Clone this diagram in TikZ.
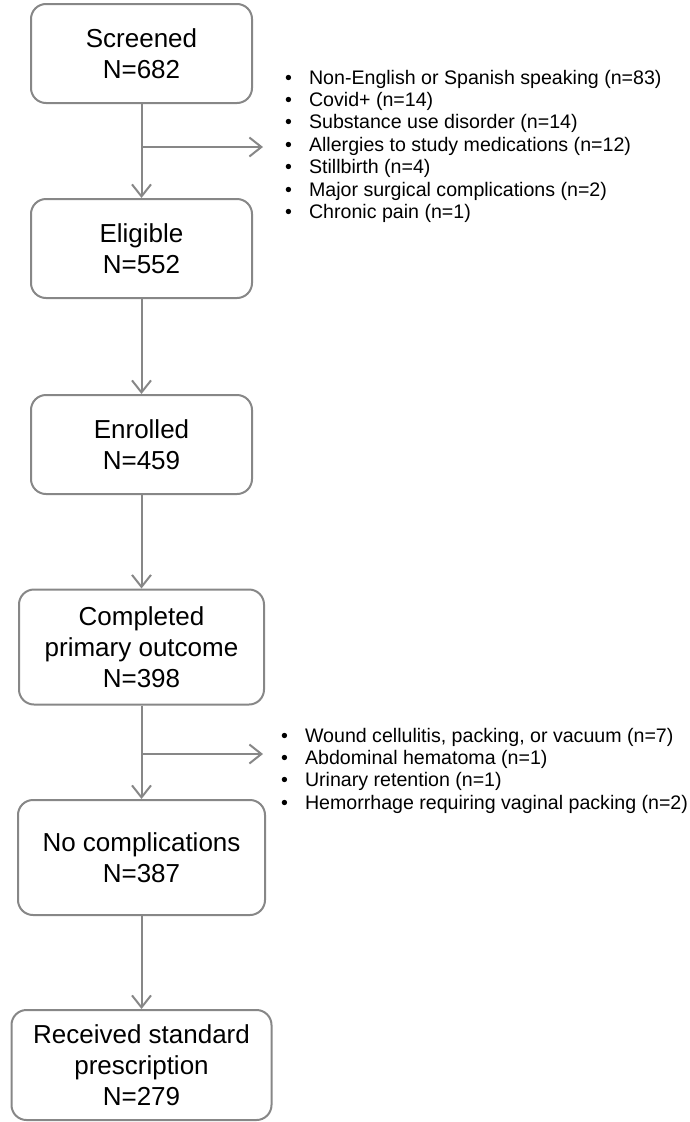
\documentclass[tikz,border=0pt]{standalone}
\usepackage{fontspec}
\setmainfont{Liberation Sans}
\usetikzlibrary{arrows.meta}
\definecolor{linegray}{RGB}{135,135,135}
\tikzset{
  flowbox/.style={draw=linegray, line width=2pt, rounded corners=15pt, align=center,
    inner sep=0pt, font=\fontsize{26}{31}\selectfont, text=black},
  arr/.style={draw=linegray, line width=2pt, -{Straight Barb[length=12pt,width=19pt,line width=2pt]}},
  listtext/.style={anchor=base west, inner sep=0pt, font=\fontsize{19.6}{22.4}\selectfont, text=black}
}
\begin{document}
\begin{tikzpicture}[x=1pt,y=-1pt]
\useasboundingbox (0,0) rectangle (690,1122);
\node[flowbox, minimum width=221pt, minimum height=99pt] (s) at (141.5,53.5) {Screened\\N=682};
\node[flowbox, minimum width=221pt, minimum height=99pt] (e) at (141.5,248.5) {Eligible\\N=552};
\node[flowbox, minimum width=221pt, minimum height=99pt] (en) at (141.5,444.5) {Enrolled\\N=459};
\node[flowbox, minimum width=245pt, minimum height=115pt] (c) at (141.5,647) {Completed\\primary outcome\\N=398};
\node[flowbox, minimum width=247pt, minimum height=115pt] (nc) at (141.5,857.5) {No complications\\N=387};
\node[flowbox, minimum width=260pt, minimum height=110pt] (r) at (141.5,1065) {Received standard\\prescription\\N=279};

\coordinate (j1) at (141.5,147);
\coordinate (t1) at (263,147);
\coordinate (j2) at (141.5,754);
\coordinate (t2) at (263,754);

\draw[arr] (s.south) -- (e.north);
\draw[arr] (j1) -- (t1);
\draw[arr] (e.south) -- (en.north);
\draw[arr] (en.south) -- (c.north);
\draw[arr] (c.south) -- (nc.north);
\draw[arr] (j2) -- (t2);
\draw[arr] (nc.south) -- (r.north);

\node[listtext] (l1) at (285,84) {\begin{tabular}[t]{@{}l@{\hspace{17pt}}l@{}}
• & Non-English or Spanish speaking (n=83)\\
• & Covid+ (n=14)\\
• & Substance use disorder (n=14)\\
• & Allergies to study medications (n=12)\\
• & Stillbirth (n=4)\\
• & Major surgical complications (n=2)\\
• & Chronic pain (n=1)
\end{tabular}};

\node[listtext] (l2) at (281,742) {\begin{tabular}[t]{@{}l@{\hspace{17pt}}l@{}}
• & Wound cellulitis, packing, or vacuum (n=7)\\
• & Abdominal hematoma (n=1)\\
• & Urinary retention (n=1)\\
• & Hemorrhage requiring vaginal packing (n=2)
\end{tabular}};
\end{tikzpicture}
\end{document}
